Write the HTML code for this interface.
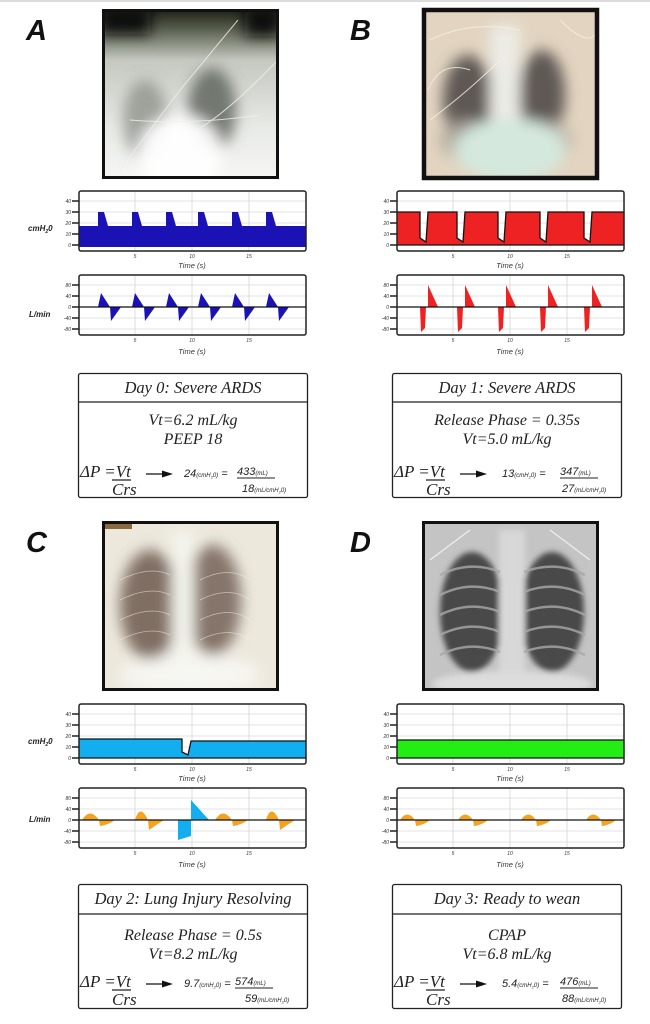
<!DOCTYPE html>
<html><head><meta charset="utf-8"><style>
html,body{margin:0;padding:0;background:#fff;}
svg{display:block;}
.tk{font-family:"Liberation Sans",sans-serif;font-style:italic;font-size:5px;fill:#333;}
.tl{font-family:"Liberation Sans",sans-serif;font-style:italic;font-size:7.5px;fill:#333;}
.yl{font-family:"Liberation Sans",sans-serif;font-style:italic;font-weight:bold;font-size:8px;fill:#222;}
.big{font-family:"Liberation Sans",sans-serif;font-style:italic;font-weight:bold;font-size:29px;fill:#111;}
.ser{font-family:"Liberation Serif",serif;font-style:italic;fill:#222;}
.san{font-family:"Liberation Sans",sans-serif;font-style:italic;fill:#222;}
</style></head><body>
<svg width="650" height="1024" viewBox="0 0 650 1024" xmlns="http://www.w3.org/2000/svg">
<defs>
<filter id="bl" x="-30%" y="-30%" width="160%" height="160%"><feGaussianBlur stdDeviation="7"/></filter>
<filter id="bl2" x="-30%" y="-30%" width="160%" height="160%"><feGaussianBlur stdDeviation="3"/></filter>
<clipPath id="cA"><rect x="102" y="9" width="177" height="170"/></clipPath>
<clipPath id="cB"><rect x="422" y="8" width="177" height="172"/></clipPath>
<clipPath id="cC"><rect x="102" y="521" width="177" height="170"/></clipPath>
<clipPath id="cD"><rect x="422" y="521" width="177" height="170"/></clipPath>
<linearGradient id="gA" x1="0" y1="0" x2="0" y2="1">
<stop offset="0" stop-color="#1a1e14"/><stop offset="0.12" stop-color="#5a6050"/><stop offset="0.3" stop-color="#c4c8c0"/><stop offset="0.7" stop-color="#e8eae6"/><stop offset="1" stop-color="#f6f6f4"/></linearGradient>
<g id="pframe">
<rect x="79" y="191" width="227" height="60" fill="#fff"/>
<g stroke="#c8c8c8" stroke-width="0.6"><line x1="79" y1="201" x2="306" y2="201"/><line x1="79" y1="212" x2="306" y2="212"/><line x1="79" y1="223" x2="306" y2="223"/><line x1="79" y1="234" x2="306" y2="234"/><line x1="79" y1="245" x2="306" y2="245"/>
<line x1="135" y1="191" x2="135" y2="251"/><line x1="192" y1="191" x2="192" y2="251"/><line x1="249" y1="191" x2="249" y2="251"/></g>
<g stroke="#111" stroke-width="1.4"><line x1="72" y1="201" x2="79" y2="201"/><line x1="72" y1="212" x2="79" y2="212"/><line x1="72" y1="223" x2="79" y2="223"/><line x1="72" y1="234" x2="79" y2="234"/><line x1="72" y1="245" x2="79" y2="245"/></g>
<g class="tk" text-anchor="end"><text x="71" y="203">40</text><text x="71" y="214">30</text><text x="71" y="225">20</text><text x="71" y="236">10</text><text x="71" y="247">0</text></g>
<g class="tk" text-anchor="middle"><text x="135" y="258">5</text><text x="192" y="258">10</text><text x="249" y="258">15</text></g>
<text class="tl" x="192" y="268" text-anchor="middle">Time (s)</text>
</g>
<g id="fframe">
<rect x="79" y="275" width="227" height="60" fill="#fff"/>
<g stroke="#c8c8c8" stroke-width="0.6"><line x1="79" y1="285" x2="306" y2="285"/><line x1="79" y1="296" x2="306" y2="296"/><line x1="79" y1="318" x2="306" y2="318"/><line x1="79" y1="329" x2="306" y2="329"/>
<line x1="135" y1="275" x2="135" y2="335"/><line x1="192" y1="275" x2="192" y2="335"/><line x1="249" y1="275" x2="249" y2="335"/></g>
<g stroke="#111" stroke-width="1.4"><line x1="72" y1="285" x2="79" y2="285"/><line x1="72" y1="296" x2="79" y2="296"/><line x1="72" y1="307" x2="79" y2="307"/><line x1="72" y1="318" x2="79" y2="318"/><line x1="72" y1="329" x2="79" y2="329"/></g>
<g class="tk" text-anchor="end"><text x="71" y="287">80</text><text x="71" y="298">40</text><text x="71" y="309">0</text><text x="71" y="320">-40</text><text x="71" y="331">-80</text></g>
<g class="tk" text-anchor="middle"><text x="135" y="342">5</text><text x="192" y="342">10</text><text x="249" y="342">15</text></g>
<text class="tl" x="192" y="354" text-anchor="middle">Time (s)</text>
</g>
<rect id="pbox" x="79" y="191" width="227" height="60" rx="2" fill="none" stroke="#222" stroke-width="1.5"/>
<rect id="fbox" x="79" y="275" width="227" height="60" rx="2" fill="none" stroke="#222" stroke-width="1.5"/>
<line id="zero" x1="79" y1="307" x2="306" y2="307" stroke="#111" stroke-width="1.2"/>
</defs>

<rect x="0" y="0" width="650" height="2" fill="#dcdcdc"/>

<text class="big" x="26" y="40">A</text>
<text class="big" x="350" y="40">B</text>
<text class="big" x="26" y="552">C</text>
<text class="big" x="350" y="552">D</text>

<!-- X-ray A -->
<g clip-path="url(#cA)">
<rect x="102" y="9" width="177" height="170" fill="url(#gA)"/>
<g filter="url(#bl)">
<ellipse cx="145" cy="120" rx="22" ry="40" fill="#8a8e86" opacity="0.75"/>
<ellipse cx="212" cy="110" rx="24" ry="42" fill="#62665f" opacity="0.85"/>
<ellipse cx="180" cy="155" rx="42" ry="40" fill="#ffffff" opacity="0.95"/>
<rect x="100" y="6" width="50" height="28" fill="#0c0c0c"/>
<rect x="245" y="6" width="35" height="30" fill="#0c0c0c"/>
</g>
<g stroke="#f0f0ea" stroke-width="1" fill="none" opacity="0.8">
<path d="M120 170 L180 90 L238 20"/><path d="M130 120 Q190 125 260 115"/><path d="M200 128 Q230 110 278 60"/>
</g>
</g>
<rect x="103.5" y="10.5" width="174" height="167" fill="none" stroke="#111" stroke-width="3"/>

<!-- X-ray B -->
<g clip-path="url(#cB)">
<rect x="422" y="8" width="177" height="172" fill="#e2d4c0"/>
<g filter="url(#bl)">
<ellipse cx="468" cy="100" rx="25" ry="45" fill="#5e5854"/>
<ellipse cx="542" cy="95" rx="23" ry="45" fill="#5e5854"/>
<ellipse cx="465" cy="140" rx="26" ry="20" fill="#b0aaa0" opacity="0.8"/>
<ellipse cx="548" cy="140" rx="26" ry="20" fill="#b8b2a8" opacity="0.7"/>
<rect x="490" y="25" width="30" height="100" fill="#ecece6"/>
<ellipse cx="510" cy="150" rx="55" ry="32" fill="#d4e8de"/>
</g>
<g stroke="#f6f0e6" stroke-width="1" fill="none" opacity="0.8">
<path d="M430 40 Q470 20 520 30"/><path d="M430 120 Q470 90 500 60"/><path d="M560 20 Q590 50 598 30"/><path d="M428 90 Q440 60 470 70"/>
</g>
</g>
<rect x="424" y="10" width="173" height="168" fill="none" stroke="#111" stroke-width="4.5"/>

<!-- X-ray C -->
<g clip-path="url(#cC)">
<rect x="102" y="521" width="177" height="170" fill="#ece8dc"/>
<rect x="102" y="521" width="30" height="8" fill="#8a6a40"/>
<g filter="url(#bl)">
<ellipse cx="150" cy="605" rx="30" ry="55" fill="#806e64"/>
<ellipse cx="213" cy="600" rx="28" ry="55" fill="#86746a"/>
<rect x="172" y="530" width="22" height="150" fill="#f4f4ee"/>
<ellipse cx="190" cy="675" rx="70" ry="20" fill="#f6f6f2"/>
</g>
<g stroke="#f2eee4" stroke-width="0.8" fill="none" opacity="0.6">
<path d="M120 580 Q150 565 170 575"/><path d="M120 600 Q150 585 170 595"/><path d="M120 620 Q150 605 170 615"/><path d="M120 640 Q150 625 170 635"/>
<path d="M200 580 Q230 565 250 580"/><path d="M200 600 Q230 585 250 600"/><path d="M200 620 Q230 605 250 620"/><path d="M200 640 Q230 625 250 640"/>
</g>
</g>
<rect x="103.5" y="522.5" width="174" height="167" fill="none" stroke="#111" stroke-width="3"/>

<!-- X-ray D -->
<g clip-path="url(#cD)">
<rect x="422" y="521" width="177" height="170" fill="#c4c4c4"/>
<g filter="url(#bl2)">
<ellipse cx="472" cy="612" rx="32" ry="60" fill="#484848"/>
<ellipse cx="552" cy="612" rx="32" ry="60" fill="#484848"/>
<rect x="499" y="530" width="26" height="160" fill="#d8d8d8"/>
<ellipse cx="512" cy="684" rx="80" ry="13" fill="#dcdcdc"/>
</g>
<g stroke="#a8a8a8" stroke-width="2.5" fill="none" opacity="0.8">
<path d="M440 575 Q470 560 500 572"/><path d="M440 595 Q470 580 500 592"/><path d="M440 615 Q470 600 500 612"/><path d="M440 635 Q470 620 500 632"/><path d="M440 655 Q470 640 500 652"/>
<path d="M524 572 Q555 560 585 575"/><path d="M524 592 Q555 580 585 595"/><path d="M524 612 Q555 600 585 615"/><path d="M524 632 Q555 620 585 635"/><path d="M524 652 Q555 640 585 655"/>
</g>
<g stroke="#eee" stroke-width="1.2" fill="none"><path d="M430 560 L470 530"/><path d="M590 560 L550 530"/></g>
</g>
<rect x="423.5" y="522.5" width="174" height="167" fill="none" stroke="#111" stroke-width="3"/>

<!-- Panel A charts -->
<use href="#pframe"/>
<g fill="#1a12b4">
<rect x="79" y="226" width="227" height="21"/>
<polygon points="98,226 98,212 104,212 108,226"/><polygon points="132,226 132,212 138,212 142,226"/><polygon points="166,226 166,212 172,212 176,226"/><polygon points="198,226 198,212 204,212 208,226"/><polygon points="232,226 232,212 238,212 242,226"/><polygon points="266,226 266,212 272,212 276,226"/>
</g>
<use href="#pbox"/>
<use href="#fframe"/>
<g fill="#1a12b4">
<polygon points="98,307 101,293 110,307 111,321 121,307"/><polygon points="132,307 135,293 144,307 145,321 155,307"/><polygon points="166,307 169,293 178,307 179,321 189,307"/><polygon points="198,307 201,293 210,307 211,321 221,307"/><polygon points="232,307 235,293 244,307 245,321 255,307"/><polygon points="266,307 269,293 278,307 279,321 289,307"/>
</g>
<use href="#zero"/><use href="#fbox"/>
<text class="yl" x="28" y="231">cmH<tspan font-size="5" dy="2">2</tspan><tspan dy="-2">0</tspan></text>
<text class="yl" x="29" y="317">L/min</text>

<!-- Panel B charts -->
<g transform="translate(318,0)">
<use href="#pframe"/>
<path d="M79,245 L79,212 L102,212 L102,238 L108,242 L110,212 L139,212 L139,238 L145,242 L147,212 L180,212 L180,238 L186,242 L188,212 L222,212 L222,238 L228,242 L230,212 L266,212 L266,238 L272,242 L274,212 L306,212 L306,245 Z" fill="#ee2222"/>
<path d="M79,212 L102,212 L102,238 L108,242 L110,212 L139,212 L139,238 L145,242 L147,212 L180,212 L180,238 L186,242 L188,212 L222,212 L222,238 L228,242 L230,212 L266,212 L266,238 L272,242 L274,212 L306,212" fill="none" stroke="#111" stroke-width="1.3"/>
<line x1="79" y1="245" x2="306" y2="245" stroke="#111" stroke-width="1.2"/>
<use href="#pbox"/>
<use href="#fframe"/>
<g fill="#ee2222">
<polygon points="102,307 103,332 107,328 108,307"/><polygon points="110,307 110,285 120,307"/>
<polygon points="139,307 140,332 144,328 145,307"/><polygon points="147,307 147,285 157,307"/>
<polygon points="180,307 181,332 185,328 186,307"/><polygon points="188,307 188,285 198,307"/>
<polygon points="222,307 223,332 227,328 228,307"/><polygon points="230,307 230,285 240,307"/>
<polygon points="266,307 267,332 271,328 272,307"/><polygon points="274,307 274,285 284,307"/>
</g>
<use href="#zero"/><use href="#fbox"/>
</g>

<!-- Panel C charts -->
<g transform="translate(0,513)">
<use href="#pframe"/>
<path d="M79,245 L79,226 L182,226 L182,239 L188,242 L191,228 L306,228 L306,245 Z" fill="#12aef0"/>
<path d="M79,226 L182,226 L182,239 L188,242 L191,228 L306,228" fill="none" stroke="#111" stroke-width="1.3"/>
<line x1="79" y1="245" x2="306" y2="245" stroke="#111" stroke-width="1.2"/>
<use href="#pbox"/>
<use href="#fframe"/>
<g fill="#f5a21e">
<path d="M82,307 Q90,294 99,307 Z"/><path d="M99,307 L100,313 Q108,312 115,307 Z"/>
<path d="M135,307 Q140,290 148,307 Z"/><path d="M148,307 L149,317 Q156,312 164,307 Z"/>
<path d="M215,307 Q223,294 232,307 Z"/><path d="M232,307 L233,313 Q241,312 248,307 Z"/>
<path d="M266,307 Q271,290 279,307 Z"/><path d="M279,307 L280,317 Q287,312 295,307 Z"/>
</g>
<g fill="#12aef0"><polygon points="178,307 178,327 191,323 191,307"/><polygon points="191,307 191,287 209,307"/></g>
<use href="#zero"/><use href="#fbox"/>
<text class="yl" x="28" y="231">cmH<tspan font-size="5" dy="2">2</tspan><tspan dy="-2">0</tspan></text>
<text class="yl" x="29" y="309">L/min</text>
</g>

<!-- Panel D charts -->
<g transform="translate(318,513)">
<use href="#pframe"/>
<rect x="79" y="227" width="227" height="18" fill="#22ee14"/>
<line x1="79" y1="227" x2="306" y2="227" stroke="#111" stroke-width="1.2"/>
<line x1="79" y1="245" x2="306" y2="245" stroke="#111" stroke-width="1.2"/>
<use href="#pbox"/>
<use href="#fframe"/>
<g fill="#f5a21e">
<path d="M82,307 Q89,296 97,307 Z"/><path d="M97,307 L98,313 Q106,312 112,307 Z"/>
<path d="M140,307 Q147,296 155,307 Z"/><path d="M155,307 L156,313 Q164,312 170,307 Z"/>
<path d="M203,307 Q210,296 218,307 Z"/><path d="M218,307 L219,313 Q227,312 233,307 Z"/>
<path d="M268,307 Q275,296 283,307 Z"/><path d="M283,307 L284,313 Q292,312 298,307 Z"/>
</g>
<use href="#zero"/><use href="#fbox"/>
</g>

<!-- Text boxes -->
<g fill="none" stroke="#222" stroke-width="1.3">
<rect x="78.5" y="373.5" width="229" height="124" rx="2"/><line x1="78.5" y1="402" x2="307.5" y2="402"/>
<rect x="392.5" y="373.5" width="229" height="124" rx="2"/><line x1="392.5" y1="402" x2="621.5" y2="402"/>
<rect x="78.5" y="884.5" width="229" height="124" rx="2"/><line x1="78.5" y1="914" x2="307.5" y2="914"/>
<rect x="392.5" y="884.5" width="229" height="124" rx="2"/><line x1="392.5" y1="914" x2="621.5" y2="914"/>
</g>

<text class="ser" x="193" y="393" font-size="16.5" text-anchor="middle">Day 0: Severe ARDS</text>
<text class="ser" x="193" y="425" font-size="16" text-anchor="middle">Vt=6.2 mL/kg</text>
<text class="ser" x="193" y="444" font-size="16" text-anchor="middle">PEEP 18</text>

<text class="ser" x="507" y="393" font-size="16.5" text-anchor="middle">Day 1: Severe ARDS</text>
<text class="ser" x="507" y="425" font-size="16" text-anchor="middle">Release Phase = 0.35s</text>
<text class="ser" x="507" y="444" font-size="16" text-anchor="middle">Vt=5.0 mL/kg</text>

<text class="ser" x="193" y="904" font-size="16.5" text-anchor="middle">Day 2: Lung Injury Resolving</text>
<text class="ser" x="193" y="940" font-size="16" text-anchor="middle">Release Phase = 0.5s</text>
<text class="ser" x="193" y="959" font-size="16" text-anchor="middle">Vt=8.2 mL/kg</text>

<text class="ser" x="507" y="904" font-size="16.5" text-anchor="middle">Day 3: Ready to wean</text>
<text class="ser" x="507" y="940" font-size="16" text-anchor="middle">CPAP</text>
<text class="ser" x="507" y="959" font-size="16" text-anchor="middle">Vt=6.8 mL/kg</text>

<g id="fA">
<text class="ser" x="80" y="477" font-size="17">ΔP =Vt</text>
<line x1="112" y1="480" x2="131" y2="480" stroke="#222" stroke-width="1.2"/>
<text class="ser" x="112" y="495" font-size="17">Crs</text>
<line x1="146" y1="474" x2="163" y2="474" stroke="#111" stroke-width="1.3"/>
<polygon points="162,470.5 173,474 162,477.5" fill="#111"/>
</g>
<text class="san" x="184" y="477" font-size="11">24<tspan font-size="6">(cmH</tspan><tspan font-size="4" dy="1.5">2</tspan><tspan font-size="6" dy="-1.5">0)</tspan> =</text>
<text class="san" x="237" y="475" font-size="11">433<tspan font-size="6">(mL)</tspan></text>
<line x1="237" y1="478" x2="275" y2="478" stroke="#222" stroke-width="1"/>
<text class="san" x="242" y="492" font-size="11">18<tspan font-size="6">(mL/cmH</tspan><tspan font-size="4" dy="1.5">2</tspan><tspan font-size="6" dy="-1.5">0)</tspan></text>

<use href="#fA" transform="translate(314,0)"/>
<text class="san" x="502" y="477" font-size="11">13<tspan font-size="6">(cmH</tspan><tspan font-size="4" dy="1.5">2</tspan><tspan font-size="6" dy="-1.5">0)</tspan> =</text>
<text class="san" x="560" y="475" font-size="11">347<tspan font-size="6">(mL)</tspan></text>
<line x1="560" y1="478" x2="598" y2="478" stroke="#222" stroke-width="1"/>
<text class="san" x="562" y="492" font-size="11">27<tspan font-size="6">(mL/cmH</tspan><tspan font-size="4" dy="1.5">2</tspan><tspan font-size="6" dy="-1.5">0)</tspan></text>

<use href="#fA" transform="translate(0,510)"/>
<text class="san" x="184" y="987" font-size="11">9.7<tspan font-size="6">(cmH</tspan><tspan font-size="4" dy="1.5">2</tspan><tspan font-size="6" dy="-1.5">0)</tspan> =</text>
<text class="san" x="235" y="985" font-size="11">574<tspan font-size="6">(mL)</tspan></text>
<line x1="235" y1="988" x2="273" y2="988" stroke="#222" stroke-width="1"/>
<text class="san" x="245" y="1002" font-size="11">59<tspan font-size="6">(mL/cmH</tspan><tspan font-size="4" dy="1.5">2</tspan><tspan font-size="6" dy="-1.5">0)</tspan></text>

<use href="#fA" transform="translate(314,510)"/>
<text class="san" x="502" y="987" font-size="11">5.4<tspan font-size="6">(cmH</tspan><tspan font-size="4" dy="1.5">2</tspan><tspan font-size="6" dy="-1.5">0)</tspan> =</text>
<text class="san" x="560" y="985" font-size="11">476<tspan font-size="6">(mL)</tspan></text>
<line x1="560" y1="988" x2="598" y2="988" stroke="#222" stroke-width="1"/>
<text class="san" x="562" y="1002" font-size="11">88<tspan font-size="6">(mL/cmH</tspan><tspan font-size="4" dy="1.5">2</tspan><tspan font-size="6" dy="-1.5">0)</tspan></text>
</svg>
</body></html>
